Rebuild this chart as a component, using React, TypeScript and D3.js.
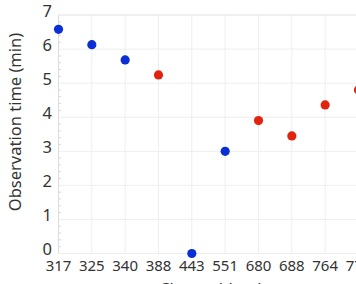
import { scaleLinear, scalePoint, range } from "d3";

const channels = ["317", "325", "340", "388", "443", "551", "680", "688", "764", "776"];
const observationTime = [6.58, 6.13, 5.68, 5.24, 0, 3.0, 3.9, 3.45, 4.36, 4.8];
const groups = ["blue", "blue", "blue", "red", "blue", "blue", "red", "red", "red", "red"];
const yTicks = [0, 1, 2, 3, 4, 5, 6, 7];

const W = 356;
const H = 284;
const FONT = "'Noto Sans', 'DejaVu Sans', sans-serif";
const colors: Record<string, string> = { blue: "#0a2fd6", red: "#e2240f" };

export default function App() {
  const x = scalePoint<string>().domain(channels).range([58.5, 358.5]);
  const y = scaleLinear().domain([0, 7]).range([253.5, 15]);
  const minor = range(0, 7.001, 0.2).filter((v) => Math.abs(v - Math.round(v)) > 0.01);

  return (
    <svg width={W} height={H} style={{ position: "absolute", left: 0, top: 0 }} fontFamily={FONT}>
      <rect width={W} height={H} fill="#fff" />
      {channels.map((c) => (
        <line key={c} x1={x(c)} x2={x(c)} y1={y(7)} y2={y(0)} stroke="#eeeeee" />
      ))}
      {yTicks.map((t) => (
        <line key={t} x1={58.5} x2={W} y1={y(t)} y2={y(t)} stroke={t === 7 ? "#e2e2e2" : "#eeeeee"} />
      ))}
      <line x1={58.5} x2={58.5} y1={y(7)} y2={y(0)} stroke="#dddddd" />
      {minor.map((m) => (
        <line key={m} x1={58.5} x2={61} y1={y(m)} y2={y(m)} stroke="#d8d8d8" />
      ))}
      {yTicks.map((t) => (
        <text key={t} x={52} y={y(t) - 4} dy="0.35em" textAnchor="end" fontSize={16.5} fill="#333">
          {t}
        </text>
      ))}
      {channels.map((c) => (
        <text key={c} x={x(c)} y={266} dy="0.35em" textAnchor="middle" fontSize={15} fill="#333">
          {c}
        </text>
      ))}
      <text
        transform={`translate(15,122) rotate(-90)`}
        textAnchor="middle"
        dy="0.35em"
        fontSize={16.5}
        fill="#333"
      >
        Observation time (min)
      </text>
      <text x={211} y={295} textAnchor="middle" fontSize={16.5} fill="#333">
        Channel (nm)
      </text>
      {channels.map((c, i) => (
        <circle key={c} cx={x(c)} cy={y(observationTime[i])} r={4.6} fill={colors[groups[i]]} />
      ))}
    </svg>
  );
}
